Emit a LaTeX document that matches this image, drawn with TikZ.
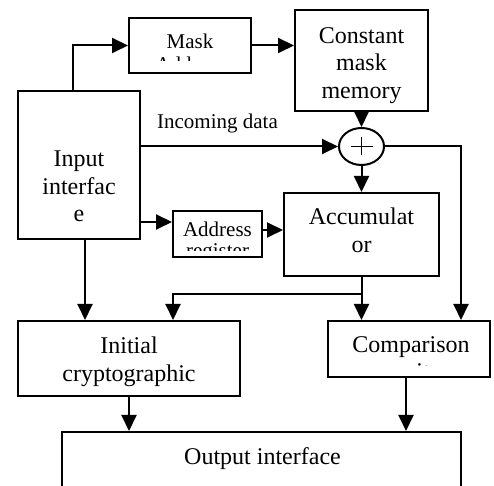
\documentclass[tikz,border=0pt]{standalone}
\usepackage{fontspec}
\setmainfont{Liberation Serif}
\usetikzlibrary{arrows.meta,shapes.geometric}
\begin{document}
\begin{tikzpicture}[x=0.5pt,y=-0.5pt,line width=1pt,
  box/.style={draw,rectangle,inner sep=0pt},
  arr/.style={-{Triangle[length=8pt,width=7.5pt]}},
  lbl/.style={inner sep=0pt,anchor=base,font=\fontsize{12}{13.75}\selectfont},
  lblsm/.style={inner sep=0pt,anchor=base,font=\fontsize{10.5}{11.8}\selectfont}]
\clip (0,0) rectangle (494,486);
% boxes
\node[box,minimum width=61pt,minimum height=27.5pt] (mask) at (190,45.5) {};
\node[box,minimum width=66.5pt,minimum height=50.5pt] (cmm) at (361.5,60.5) {};
\node[box,minimum width=61pt,minimum height=74pt] (inp) at (79,165) {};
\node[draw,ellipse,inner sep=0pt,minimum width=22.5pt,minimum height=18.5pt] (xor) at (361.5,146.5) {};
\node[box,minimum width=44.5pt,minimum height=23pt] (addr) at (217.5,234) {};
\node[box,minimum width=77.5pt,minimum height=41.5pt] (acc) at (361.5,234.5) {};
\node[box,minimum width=111pt,minimum height=37.5pt] (init) at (129,358.5) {};
\node[box,minimum width=81pt,minimum height=28pt] (comp) at (409,349) {};
\node[box,minimum width=199.5pt,minimum height=38pt] (out) at (261.5,470) {};
% plus sign
\draw[line width=0.7pt] ([xshift=-5.5pt]xor.center) -- ([xshift=5.5pt]xor.center);
\draw[line width=0.7pt] ([yshift=-4.5pt]xor.center) -- ([yshift=4.5pt]xor.center);
% texts
\begin{scope}
\clip (129,18) rectangle (251,61);
\node[lblsm] (tmask) at (190,48.3) {\parbox[t]{60pt}{\centering Mask\\Address}};
\end{scope}
\node[lbl] (tcmm) at (361.5,43.3) {\parbox[t]{70pt}{\centering Constant\\mask\\memory}};
\node[lbl] (tinp) at (79,166.7) {\parbox[t]{60pt}{\centering Input\\interfac\\e}};
\node[lblsm] (tin) at (217.5,128.3) {Incoming data};
\begin{scope}
\clip (173,211) rectangle (262,251);
\node[inner sep=0pt,anchor=base,font=\fontsize{10.5}{10.5}\selectfont] (taddr) at (217.5,236.7) {\parbox[t]{50pt}{\centering Address\\register}};
\end{scope}
\node[lbl] (tacc) at (361.5,225) {\parbox[t]{80pt}{\centering Accumulat\\or}};
\node[lbl] (tinit) at (129,354) {\parbox[t]{100pt}{\centering Initial\\cryptographic}};
\begin{scope}
\clip (328,321) rectangle (490,366);
\node[lbl] (tcomp) at (411,352.3) {\parbox[t]{80pt}{\centering Comparison\\unit}};
\end{scope}
\node[lbl] (tout) at (262.5,465) {Output interface};
% connectors
\draw[arr] ([xshift=-3pt]inp.north) |- (mask.west);
\draw[arr] (mask.east) -- (mask.east -| cmm.west);
\draw[arr] (cmm.south) -- (xor.north);
\draw[arr] (inp.east |- xor.west) -- (xor.west);
\draw[arr] (xor.south) -- (acc.north);
\draw[arr] (xor.east) -| ([xshift=26pt]comp.north);
\coordinate (a1) at ([yshift=6pt]addr.west);
\draw[arr] (inp.east |- a1) -- (a1);
\coordinate (a2) at ([yshift=2pt]addr.east);
\draw[arr] (a2) -- (a2 -| acc.west);
\coordinate (i1) at ([xshift=3pt]inp.south);
\draw[arr] (i1) -- (i1 |- init.north);
\draw[arr] (acc.south) -- (acc.south |- comp.north);
\coordinate (br) at ([yshift=-8.5pt]acc.south);
\coordinate (i2) at ([xshift=22pt]init.north);
\draw[arr] (br) -| (i2);
\draw[arr] (init.south) -- (init.south |- out.north);
\coordinate (c1) at ([xshift=-1.5pt]comp.south);
\draw[arr] (c1) -- (c1 |- out.north);
\end{tikzpicture}
\end{document}
